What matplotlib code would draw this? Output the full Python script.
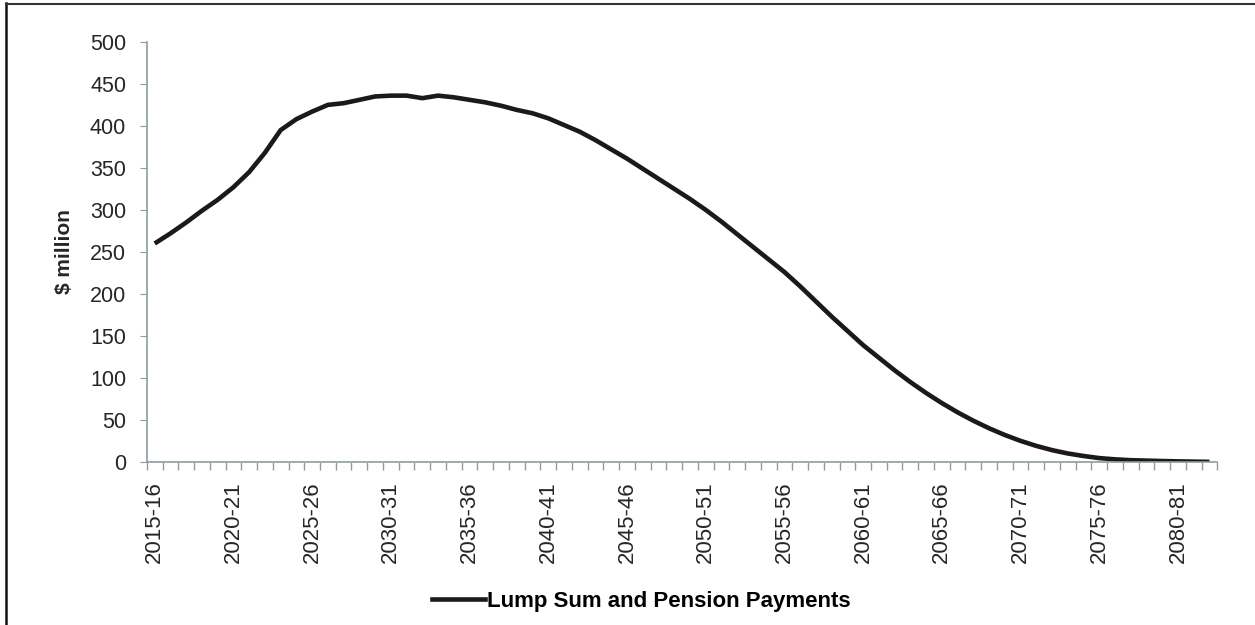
import matplotlib
matplotlib.use('Agg')
import matplotlib.pyplot as plt
from matplotlib.lines import Line2D
import numpy as np

plt.rcParams['font.family'] = ['Liberation Sans', 'DejaVu Sans']

fiscal_years = ['2015-16', '2016-17', '2017-18', '2018-19', '2019-20',
                '2020-21', '2021-22', '2022-23', '2023-24', '2024-25',
                '2025-26', '2026-27', '2027-28', '2028-29', '2029-30',
                '2030-31', '2031-32', '2032-33', '2033-34', '2034-35',
                '2035-36', '2036-37', '2037-38', '2038-39', '2039-40',
                '2040-41', '2041-42', '2042-43', '2043-44', '2044-45',
                '2045-46', '2046-47', '2047-48', '2048-49', '2049-50',
                '2050-51', '2051-52', '2052-53', '2053-54', '2054-55',
                '2055-56', '2056-57', '2057-58', '2058-59', '2059-60',
                '2060-61', '2061-62', '2062-63', '2063-64', '2064-65',
                '2065-66', '2066-67', '2067-68', '2068-69', '2069-70',
                '2070-71', '2071-72', '2072-73', '2073-74', '2074-75',
                '2075-76', '2076-77', '2077-78', '2078-79', '2079-80',
                '2080-81', '2081-82', '2082-83']

# $ million
payments = [260, 272, 285, 299, 312, 327, 345, 368, 395, 408,
            417, 425, 427, 431, 435, 436, 436, 433, 436, 434,
            431, 428, 424, 419, 415, 409, 401, 393, 383, 372,
            361, 349, 337, 325, 313, 300, 286, 271, 256, 241,
            226, 209, 191, 173, 156, 139, 124, 109, 95, 82,
            70, 59, 49, 40, 32, 25, 19, 14, 10, 7,
            4.5, 3, 2, 1.5, 1, 0.6, 0.3, 0]

series_name = 'Lump Sum and Pension Payments'
y_ticks = [0, 50, 100, 150, 200, 250, 300, 350, 400, 450, 500]

axis_grey = '#8f9ba3'
text_col = '#262626'

fig = plt.figure(figsize=(12.55, 6.25), dpi=100)
ax = fig.add_axes([0.117, 0.261, 0.853, 0.672])

x = np.arange(len(fiscal_years))
ax.plot(x, payments, color='#1a1a1a', lw=3.3, solid_capstyle='butt')

ax.set_xlim(-0.5, len(fiscal_years) - 0.5)
ax.set_ylim(0, 500)
ax.set_yticks(y_ticks)
ax.tick_params(axis='y', labelsize=15.5, labelcolor=text_col, color=axis_grey,
               length=5, pad=10)

ax.set_xticks(x[::5])
ax.set_xticklabels(fiscal_years[::5], rotation=90, fontsize=16, color=text_col)
ax.tick_params(axis='x', which='major', length=0, pad=14)
ax.set_xticks(np.arange(-0.5, len(fiscal_years)), minor=True)
ax.tick_params(axis='x', which='minor', length=6, color=axis_grey, width=1)

for side in ['top', 'right']:
    ax.spines[side].set_visible(False)
for side in ['left', 'bottom']:
    ax.spines[side].set_color(axis_grey)
    ax.spines[side].set_linewidth(1.2)

ax.set_ylabel('$ million', fontsize=15, fontweight='bold', color=text_col)
ax.yaxis.set_label_coords(-0.068, 0.5)

handle = Line2D([0], [0], color='#1a1a1a', lw=3.3)
fig.legend([handle], [series_name], loc='center', bbox_to_anchor=(0.511, 0.038),
           frameon=False, handlelength=2.4, handletextpad=0.1,
           prop={'size': 16, 'weight': 'bold'})

# outer frame of the original chart
fig.add_artist(Line2D([0.005, 0.005], [0, 0.995], transform=fig.transFigure,
                      color='#111111', lw=1.8))
fig.add_artist(Line2D([0.005, 1], [0.993, 0.993], transform=fig.transFigure,
                      color='#333333', lw=1.5))

fig.savefig('out.png', dpi=100)
